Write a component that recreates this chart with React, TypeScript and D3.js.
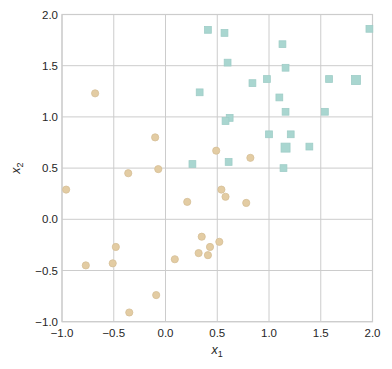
import React from "react";
import * as d3 from "d3";

const circleX = [-0.68, -0.10, -0.36, -0.07, -0.96, 0.21, -0.48, -0.77, -0.51, 0.09, -0.09, -0.35, 0.35, 0.32, 0.54, 0.58, 0.78, 0.43, 0.52, 0.41, 0.49, 0.82];
const circleY = [1.23, 0.80, 0.45, 0.49, 0.29, 0.17, -0.27, -0.45, -0.43, -0.39, -0.74, -0.91, -0.17, -0.33, 0.29, 0.22, 0.16, -0.27, -0.22, -0.35, 0.67, 0.60];

const squareX = [0.41, 0.57, 1.97, 1.13, 0.60, 1.16, 0.33, 0.84, 0.98, 1.58, 1.84, 1.10, 1.16, 1.54, 0.62, 0.58, 1.00, 1.21, 1.16, 1.39, 0.26, 0.61, 1.14];
const squareY = [1.85, 1.82, 1.86, 1.71, 1.53, 1.48, 1.24, 1.33, 1.37, 1.37, 1.36, 1.19, 1.05, 1.05, 0.99, 0.96, 0.83, 0.83, 0.70, 0.71, 0.54, 0.56, 0.50];
const squareBig = [false, false, false, false, false, false, false, false, false, false, true, false, false, false, false, false, false, false, true, false, false, false, false];

const xTicks = [-1.0, -0.5, 0.0, 0.5, 1.0, 1.5, 2.0];
const yTicks = [-1.0, -0.5, 0.0, 0.5, 1.0, 1.5, 2.0];

export default function App() {
  const W = 392, H = 369;
  const left = 62, right = 372.5, top = 14.5, bottom = 321.7;
  const x = d3.scaleLinear().domain([-1, 2]).range([left, right]);
  const y = d3.scaleLinear().domain([-1, 2]).range([bottom, top]);
  const fmt = d3.format(".1f");
  const lab = (v: number) => fmt(v).replace("-", "\u2212");
  const font = "'Liberation Sans', Arial, sans-serif";

  return (
    <svg width={W} height={H} style={{ position: "absolute", left: 0, top: 0, background: "#fff" }}>
      <rect x={left} y={top} width={right - left} height={bottom - top} fill="#fff" />
      {xTicks.map((t, i) => (
        <line key={"gx" + i} x1={x(t)} x2={x(t)} y1={top} y2={bottom} stroke="#cccccc" strokeWidth={1} />
      ))}
      {yTicks.map((t, i) => (
        <line key={"gy" + i} x1={left} x2={right} y1={y(t)} y2={y(t)} stroke="#cccccc" strokeWidth={1} />
      ))}
      <rect x={left} y={top} width={right - left} height={bottom - top} fill="none" stroke="#cccccc" strokeWidth={1.2} />
      {circleX.map((cx, i) => (
        <circle key={"c" + i} cx={x(cx)} cy={y(circleY[i])} r={3.6} fill="#e3cca3" stroke="#d6bf97" strokeWidth={0.8} />
      ))}
      {squareX.map((sx, i) => {
        const s = squareBig[i] ? 9 : 6.8;
        return (
          <rect key={"s" + i} x={x(sx) - s / 2} y={y(squareY[i]) - s / 2} width={s} height={s} fill="#a9d6d0" stroke="#9fcdc7" strokeWidth={0.8} />
        );
      })}
      {xTicks.map((t, i) => (
        <text key={"tx" + i} x={x(t)} y={bottom + 15} textAnchor="middle" fontFamily={font} fontSize={11.5} fill="#262626">{lab(t)}</text>
      ))}
      {yTicks.map((t, i) => (
        <text key={"ty" + i} x={left - 4} y={y(t) + 4} textAnchor="end" fontFamily={font} fontSize={11.5} fill="#262626">{lab(t)}</text>
      ))}
      <text x={(left + right) / 2} y={354} textAnchor="middle" fontFamily={font} fontSize={12.5} fill="#262626">
        <tspan fontStyle="italic">x</tspan><tspan fontSize={9} dy={3}>1</tspan>
      </text>
      <text transform={`translate(20,${(top + bottom) / 2}) rotate(-90)`} textAnchor="middle" fontFamily={font} fontSize={12.5} fill="#262626">
        <tspan fontStyle="italic">x</tspan><tspan fontSize={9} dy={3}>2</tspan>
      </text>
    </svg>
  );
}
